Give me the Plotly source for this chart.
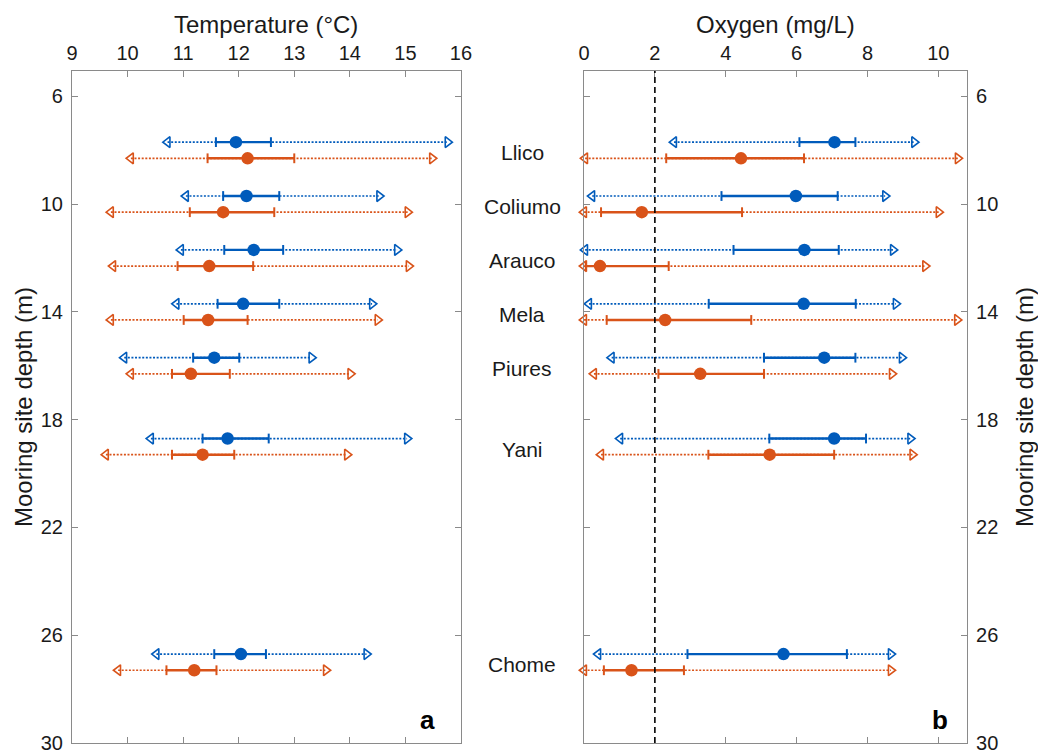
import plotly.graph_objects as go

sites = ["Llico", "Coliumo", "Arauco", "Mela", "Piures", "Yani", "Chome"]
depth = [8, 10, 12, 14, 16, 19, 27]

# Temperature (°C): blue series
temp_blue_min = [10.72, 11.05, 10.96, 10.88, 9.94, 10.42, 10.52]
temp_blue_q1 = [11.59, 11.72, 11.74, 11.62, 11.18, 11.35, 11.56]
temp_blue_med = [11.95, 12.14, 12.27, 12.08, 11.56, 11.80, 12.04]
temp_blue_q3 = [12.58, 12.73, 12.80, 12.73, 12.01, 12.54, 12.49]
temp_blue_max = [15.76, 14.53, 14.85, 14.40, 13.31, 15.03, 14.30]
# Temperature: orange series
temp_orange_min = [10.06, 9.70, 9.74, 9.70, 10.06, 9.61, 9.83]
temp_orange_q1 = [11.44, 11.12, 10.90, 11.01, 10.80, 10.80, 10.70]
temp_orange_med = [12.16, 11.72, 11.47, 11.45, 11.14, 11.35, 11.20]
temp_orange_q3 = [13.00, 12.64, 12.26, 12.16, 11.84, 11.92, 11.60]
temp_orange_max = [15.48, 15.04, 15.06, 14.50, 14.01, 13.95, 13.57]

# Oxygen (mg/L): blue series
oxy_blue_min = [2.54, 0.23, 0.03, 0.14, 0.78, 1.02, 0.40]
oxy_blue_q1 = [6.08, 3.88, 4.22, 3.52, 5.08, 5.23, 2.92]
oxy_blue_med = [7.07, 5.98, 6.22, 6.20, 6.78, 7.06, 5.63]
oxy_blue_q3 = [7.66, 7.16, 7.19, 7.67, 7.66, 7.96, 7.42]
oxy_blue_max = [9.32, 8.50, 8.72, 8.80, 8.97, 9.21, 8.66]
# Oxygen: orange series
oxy_orange_min = [0.03, 0.0, 0.0, 0.0, 0.28, 0.48, 0.0]
oxy_orange_q1 = [2.32, 0.48, 0.05, 0.64, 2.10, 3.51, 0.56]
oxy_orange_med = [4.43, 1.63, 0.45, 2.29, 3.28, 5.24, 1.34]
oxy_orange_q3 = [6.21, 4.46, 2.39, 4.72, 5.08, 7.06, 2.82]
oxy_orange_max = [10.55, 10.01, 9.63, 10.53, 8.69, 9.27, 8.66]

temp_ticks = [9, 10, 11, 12, 13, 14, 15, 16]
oxy_ticks = [0, 2, 4, 6, 8, 10]
depth_ticks = [6, 10, 14, 18, 22, 26, 30]
hypoxia_threshold = 2

BLUE = "#005BBB"
ORANGE = "#D95319"
AXC = "#8a8a8a"
FONT = "Liberation Sans, Arial, Helvetica, sans-serif"
TXT = "#1a1a1a"

fig = go.Figure()


def add_series(xa, ya, mn, q1, med, q3, mx, ys, color):
    dx, dy, sx, sy = [], [], [], []
    for a, b, c, d, y in zip(mn, q1, q3, mx, ys):
        dx += [a, d, None]
        dy += [y, y, None]
        sx += [b, c, None]
        sy += [y, y, None]
    common = dict(xaxis=xa, yaxis=ya, showlegend=False, hoverinfo="skip", cliponaxis=False)
    fig.add_trace(go.Scatter(x=dx, y=dy, mode="lines",
                             line=dict(color=color, width=1.7, dash="2px,1.6px"), **common))
    fig.add_trace(go.Scatter(x=sx, y=sy, mode="lines",
                             line=dict(color=color, width=2.4), **common))
    fig.add_trace(go.Scatter(x=list(q1) + list(q3), y=list(ys) + list(ys), mode="markers",
                             marker=dict(symbol="line-ns", size=7,
                                         line=dict(color=color, width=2)), **common))
    fig.add_trace(go.Scatter(x=mn, y=ys, mode="markers",
                             marker=dict(symbol="triangle-left-open", size=9.5, color=color,
                                         line=dict(color=color, width=1.6)), **common))
    fig.add_trace(go.Scatter(x=mx, y=ys, mode="markers",
                             marker=dict(symbol="triangle-right-open", size=9.5, color=color,
                                         line=dict(color=color, width=1.6)), **common))
    fig.add_trace(go.Scatter(x=med, y=ys, mode="markers",
                             marker=dict(symbol="circle", size=12.5, color=color,
                                         line=dict(width=0)), **common))


y_blue = [d - 0.3 for d in depth]
y_orange = [d + 0.3 for d in depth]

add_series("x", "y", temp_blue_min, temp_blue_q1, temp_blue_med, temp_blue_q3, temp_blue_max, y_blue, BLUE)
add_series("x", "y", temp_orange_min, temp_orange_q1, temp_orange_med, temp_orange_q3, temp_orange_max, y_orange, ORANGE)
add_series("x2", "y2", oxy_blue_min, oxy_blue_q1, oxy_blue_med, oxy_blue_q3, oxy_blue_max, y_blue, BLUE)
add_series("x2", "y2", oxy_orange_min, oxy_orange_q1, oxy_orange_med, oxy_orange_q3, oxy_orange_max, y_orange, ORANGE)

fig.add_shape(type="line", xref="x2", yref="y2 domain", x0=hypoxia_threshold, x1=hypoxia_threshold,
              y0=0, y1=1, line=dict(color="black", width=1.6, dash="6px,4px"))

axis_common = dict(showline=True, linecolor=AXC, linewidth=1.2, mirror="ticks",
                   ticks="inside", ticklen=6, tickcolor=AXC, tickwidth=1.2,
                   showgrid=False, zeroline=False, automargin=False,
                   tickfont=dict(family=FONT, size=20, color=TXT))

fig.update_layout(
    width=1038, height=754,
    paper_bgcolor="white", plot_bgcolor="white",
    margin=dict(l=72, r=71, t=71, b=11),
    font=dict(family=FONT, color=TXT),
    xaxis=dict(domain=[0, 0.4346], range=[9, 16], side="top", tickvals=temp_ticks,
               ticklabelstandoff=2, anchor="y", **axis_common),
    xaxis2=dict(domain=[0.5721, 1], range=[0, 10.81], side="top", tickvals=oxy_ticks,
                ticklabelstandoff=2, anchor="y2", **axis_common),
    yaxis=dict(range=[30, 5.06], tickvals=depth_ticks, anchor="x", side="left",
               ticklabelstandoff=4, **axis_common),
    yaxis2=dict(range=[30, 5.06], tickvals=depth_ticks, anchor="x2", side="right",
                ticklabelstandoff=4, **axis_common),
)

title_font = dict(family=FONT, size=24, color=TXT)
fig.add_annotation(x=0.5, xref="x domain", y=1, yref="paper", yshift=47, text="Temperature (°C)",
                   showarrow=False, font=title_font, xanchor="center", yanchor="middle")
fig.add_annotation(x=0.5, xref="x2 domain", y=1, yref="paper", yshift=47, text="Oxygen (mg/L)",
                   showarrow=False, font=title_font, xanchor="center", yanchor="middle")
fig.add_annotation(x=0, xref="paper", xshift=-49, y=0.5, yref="paper", text="Mooring site depth (m)",
                   textangle=-90, showarrow=False, font=title_font, xanchor="center", yanchor="middle")
fig.add_annotation(x=1, xref="paper", xshift=57, y=0.5, yref="paper", text="Mooring site depth (m)",
                   textangle=-90, showarrow=False, font=title_font, xanchor="center", yanchor="middle")

for name, d in zip(sites, depth):
    fig.add_annotation(x=0.503, xref="paper", y=d + 0.1, yref="y", text=name, showarrow=False,
                       font=dict(family=FONT, size=21, color=TXT), xanchor="center", yanchor="middle")

fig.add_annotation(x=15.39, xref="x", y=29.15, yref="y", text="<b>a</b>", showarrow=False,
                   font=dict(family=FONT, size=26, color="black"))
fig.add_annotation(x=10.06, xref="x2", y=29.15, yref="y2", text="<b>b</b>", showarrow=False,
                   font=dict(family=FONT, size=26, color="black"))

fig.write_html("out.html")
